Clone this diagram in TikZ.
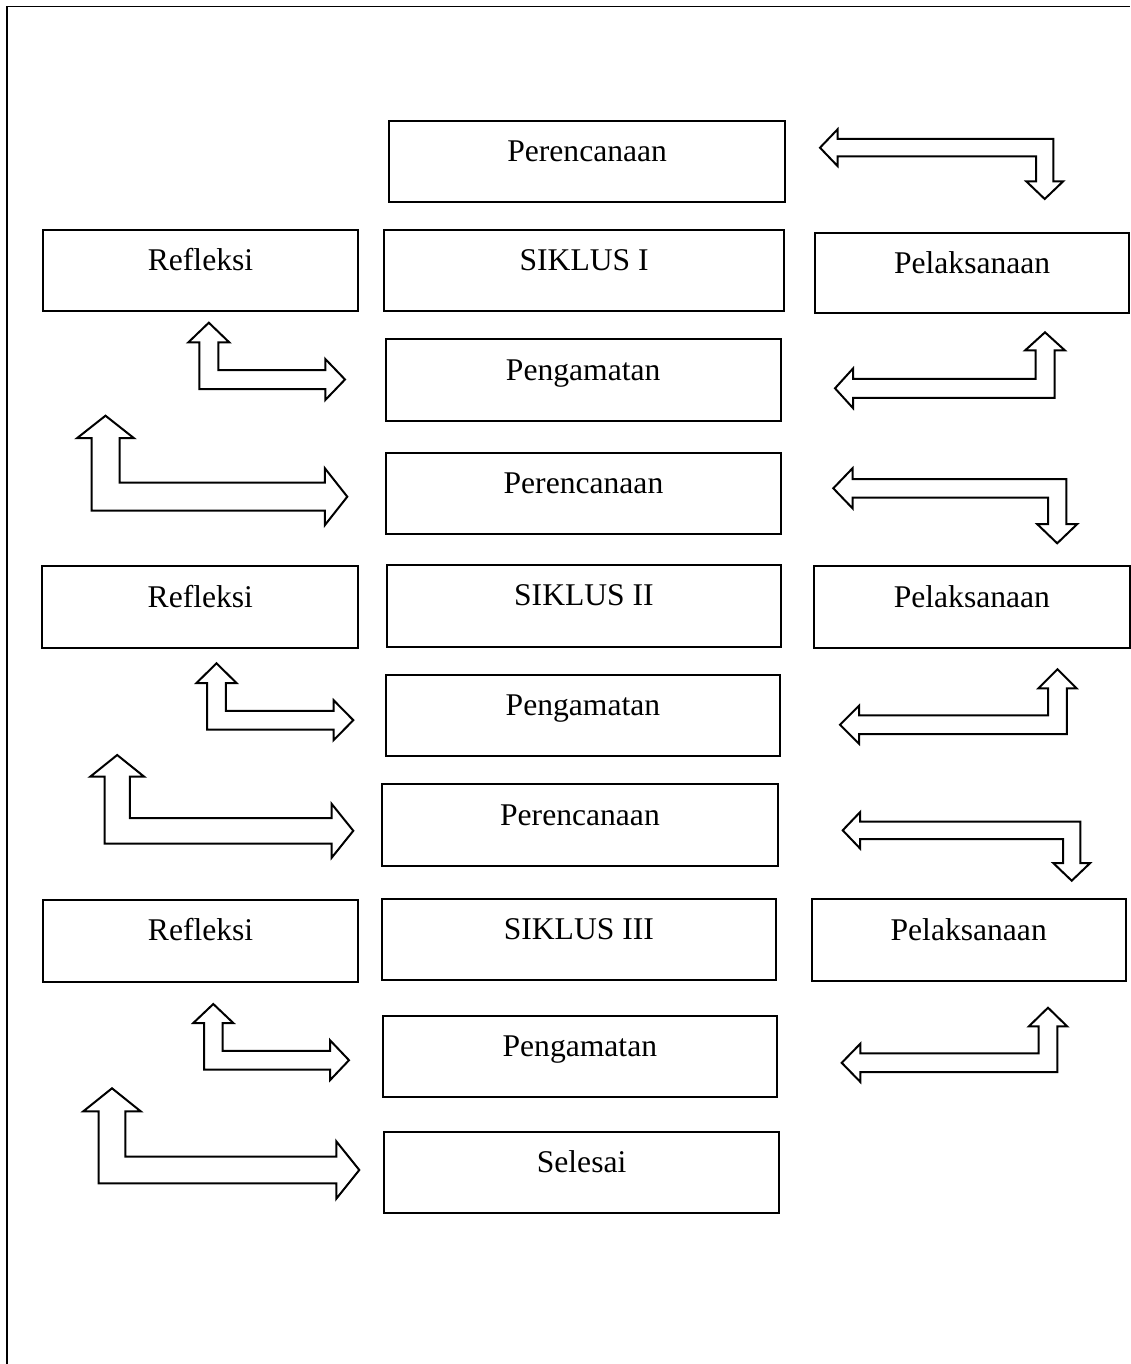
\documentclass[tikz,border=0pt]{standalone}
\usepackage{fontspec}
\setmainfont{Liberation Serif}
\newcommand\bentarrow[7]{%
  \pgfmathsetmacro\arsx{sign(#1-#3)}%
  \pgfmathsetmacro\arsy{sign(#4-#2)}%
  \draw[arrowshape] (#1,#2)
    -- ({#1-\arsx*#7},{#2-\arsy*#6})
    -- ({#1-\arsx*#7},{#2-\arsy*#5})
    -- ({#3-\arsx*#5},{#2-\arsy*#5})
    -- ({#3-\arsx*#5},{#4-\arsy*#7})
    -- ({#3-\arsx*#6},{#4-\arsy*#7})
    -- (#3,#4)
    -- ({#3+\arsx*#6},{#4-\arsy*#7})
    -- ({#3+\arsx*#5},{#4-\arsy*#7})
    -- ({#3+\arsx*#5},{#2+\arsy*#5})
    -- ({#1-\arsx*#7},{#2+\arsy*#5})
    -- ({#1-\arsx*#7},{#2+\arsy*#6})
    -- cycle;}
\newcommand\boxat[6]{%
  \node[stagebox, minimum width={(#4-#2)*0.5pt}, minimum height={(#5-#3)*0.5pt}]
    (#1) at ({(#2+#4)/2},{(#3+#5)/2}) {#6};}
\tikzset{
  stagebox/.style={draw, line width=1pt, inner sep=0pt, fill=white,
    text height=6pt, text depth=6pt, font=\fontsize{15.8}{19}\selectfont},
  arrowshape/.style={draw, line width=1pt, line join=miter, fill=white},
  framestyle/.style={line width=0.8pt}
}
\begin{document}
\begin{tikzpicture}[x=0.5pt, y=-0.5pt]
\useasboundingbox (0,0) rectangle (1130,1364);
\coordinate (fb) at (7,1364);
\coordinate (fc) at (7,6.5);
\coordinate (fe) at (1130,6.5);
\draw[framestyle] (fb) -- (fc) -- (fe);

% cycle I
\boxat{p1}{389.3}{120.7}{785}{201.7}{Perencanaan}
\boxat{s1}{384.3}{230}{784}{311}{SIKLUS I}
\boxat{g1}{385.7}{339.3}{780.7}{421}{Pengamatan}
\boxat{r1}{43}{230}{358}{311}{Refleksi}
\boxat{l1}{815}{233.3}{1129.3}{313.3}{Pelaksanaan}

% cycle II
\boxat{p2}{385.7}{452.7}{781.2}{534.3}{Perencanaan}
\boxat{s2}{386.7}{565}{781.2}{646.7}{SIKLUS II}
\boxat{r2}{42.4}{566}{358.3}{648.3}{Refleksi}
\boxat{l2}{814.3}{566}{1129.5}{648.3}{Pelaksanaan}
\boxat{g2}{385.7}{675}{780.2}{756}{Pengamatan}

% cycle III
\boxat{p3}{382.2}{784.3}{777.7}{866}{Perencanaan}
\boxat{s3}{381.5}{899}{776.2}{980}{SIKLUS III}
\boxat{r3}{43.3}{900}{357.9}{981.7}{Refleksi}
\boxat{l3}{811.7}{899.3}{1125.7}{981}{Pelaksanaan}
\boxat{g3}{382.5}{1016}{777.2}{1097.3}{Pengamatan}
\boxat{end}{384.4}{1132}{778.8}{1213.3}{Selesai}

% bent double arrows: hx, cy, cx, vy, w, H, L
\bentarrow{820}{147.7}{1044.7}{199}{8.7}{18.3}{17.5}
\bentarrow{835}{388.3}{1045}{332.3}{9.5}{19.8}{18}
\bentarrow{345}{379.5}{208.8}{322.7}{9.5}{20.5}{19.7}
\bentarrow{347.3}{496.7}{105.5}{415.7}{14}{28.5}{22.5}

\bentarrow{833.3}{488.3}{1057.2}{543.3}{9.2}{20}{19.2}
\bentarrow{840}{724.8}{1057.5}{669.3}{9.4}{19}{19}
\bentarrow{353.3}{720.2}{216.5}{663.3}{9.4}{20}{19.7}
\bentarrow{353.3}{830.8}{117.2}{755}{12.7}{27}{21.7}

\bentarrow{842.7}{830.3}{1071.7}{880.7}{8.7}{18.3}{17.5}
\bentarrow{841.7}{1062.8}{1048}{1007.7}{9.4}{19.2}{18.7}
\bentarrow{349}{1060.2}{213.3}{1004}{9.3}{20}{19}
\bentarrow{359.3}{1170}{112}{1088.3}{13.3}{28.7}{23}
\end{tikzpicture}
\end{document}
